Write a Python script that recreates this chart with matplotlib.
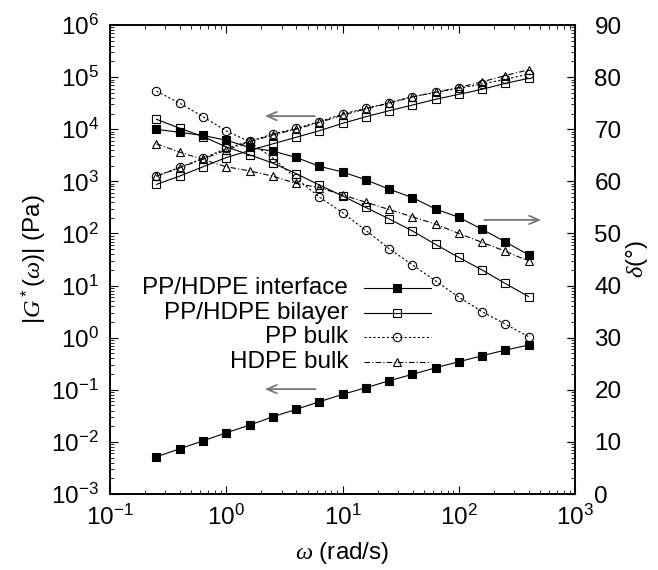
import numpy as np
import matplotlib
matplotlib.use("Agg")
import matplotlib.pyplot as plt
from matplotlib.lines import Line2D

plt.rcParams['font.family'] = ['Liberation Sans', 'DejaVu Sans']
plt.rcParams['mathtext.fontset'] = 'custom'
plt.rcParams['mathtext.rm'] = 'Liberation Sans'
plt.rcParams['mathtext.it'] = 'Liberation Serif:italic'
plt.rcParams['mathtext.bf'] = 'Liberation Sans:bold'
plt.rcParams['axes.unicode_minus'] = False

# ---- data ----
omega = [0.251, 0.398, 0.631, 1.0, 1.585, 2.512, 3.981, 6.310, 10.0, 15.85,
         25.12, 39.81, 63.10, 100.0, 158.5, 251.2, 398.1]

# |G*| (Pa), log10 values
logG_interface = [-2.286, -2.132, -1.979, -1.825, -1.678, -1.518, -1.376, -1.230, -1.088,
                  -0.961, -0.827, -0.704, -0.577, -0.462, -0.347, -0.238, -0.142]
logG_bilayer = [2.942, 3.102, 3.280, 3.457, 3.591, 3.720, 3.845, 3.971, 4.113,
                4.240, 4.355, 4.464, 4.574, 4.670, 4.766, 4.881, 4.975]
logG_pp = [3.102, 3.269, 3.441, 3.633, 3.770, 3.908, 4.017, 4.144, 4.292,
           4.401, 4.509, 4.624, 4.708, 4.785, 4.868, 4.958, 5.060]
logG_hdpe = [3.100, 3.260, 3.430, 3.600, 3.760, 3.890, 4.000, 4.130, 4.270,
             4.390, 4.500, 4.620, 4.710, 4.800, 4.910, 5.030, 5.140]

# phase angle delta (degrees)
delta_interface = [70.0, 69.4, 68.8, 67.9, 66.5, 65.8, 64.6, 62.9, 61.8,
                   60.3, 58.5, 56.9, 54.7, 53.1, 50.8, 48.4, 45.9]
delta_bilayer = [71.9, 70.2, 68.6, 66.6, 65.1, 63.5, 61.5, 59.3, 57.2,
                 55.0, 52.8, 50.5, 47.9, 45.4, 43.0, 40.4, 37.9]
delta_pp = [77.3, 75.0, 72.4, 69.7, 67.6, 64.5, 60.6, 57.0, 54.0,
            50.6, 47.1, 44.0, 40.9, 37.8, 35.0, 32.6, 30.2]
delta_hdpe = [67.2, 65.6, 64.2, 62.8, 62.0, 61.0, 59.6, 58.8, 57.4,
              56.0, 54.6, 53.2, 51.8, 50.0, 48.3, 46.6, 44.7]

labels = ["PP/HDPE interface", "PP/HDPE bilayer", "PP bulk", "HDPE bulk"]

G_ticks = [1e-3, 1e-2, 1e-1, 1e0, 1e1, 1e2, 1e3, 1e4, 1e5, 1e6]
d_ticks = [0, 10, 20, 30, 40, 50, 60, 70, 80, 90]
x_ticks = [1e-1, 1e0, 1e1, 1e2, 1e3]

# ---- styles ----
lw = 0.8
styles = [
    dict(ls='-', marker='s', ms=6.3, mfc='black', mec='black'),
    dict(ls='-', marker='s', ms=6.3, mfc='none', mec='black'),
    dict(ls=(0, (2, 2)), marker='o', ms=6, mfc='none', mec='black'),
    dict(ls=(0, (5, 2, 1, 2)), marker='^', ms=6, mfc='none', mec='black'),
]

fig = plt.figure(figsize=(6.58, 5.70), dpi=100)
ax = fig.add_axes([0.1672, 0.1333, 0.7067, 0.8228])
ax.set_xscale('log')
ax.set_yscale('log')
ax.set_xlim(0.1, 1000)
ax.set_ylim(1e-3, 1e6)

w = np.array(omega)
Gs = [logG_interface, logG_bilayer, logG_pp, logG_hdpe]
for G, st in zip(Gs, styles):
    ax.plot(w, 10 ** np.array(G), color='black', lw=lw, mew=0.8, **st)

ax2 = ax.twinx()
ax2.set_ylim(0, 90)
ds = [delta_interface, delta_bilayer, delta_pp, delta_hdpe]
for d, st in zip(ds, styles):
    ax2.plot(w, d, color='black', lw=lw, mew=0.8, **st)
ax2.set_xlim(0.1, 1000)

fs = 17.5
ax.set_yticks(G_ticks)
ax.set_xticks(x_ticks)
ax2.set_yticks(d_ticks)
ax.tick_params(axis='both', which='major', direction='in', length=6, width=0.8,
               labelsize=fs, top=True, right=True, pad=8)
ax.tick_params(axis='both', which='minor', direction='in', length=3, width=0.6,
               top=True, right=True)
ax.tick_params(axis='y', which='major', pad=8)
ax2.tick_params(axis='y', which='major', direction='in', length=6, width=0.8,
                labelsize=fs, pad=14)
for a in (ax, ax2):
    for s in a.spines.values():
        s.set_linewidth(1.2)

ax.set_xlabel(r'$\omega$ (rad/s)', fontsize=fs, labelpad=7)
ax.set_ylabel(r'$|G^*(\omega)|$ (Pa)', fontsize=fs, labelpad=2)
ax2.set_ylabel(r'$\delta$(°)', fontsize=fs, labelpad=2)

# arrows
arrow_kw = dict(arrowstyle='->,head_length=0.7,head_width=0.3', color='#777777', lw=1.3)
ax.annotate('', xy=(2.03, 1.79e4), xytext=(6.1, 1.79e4), arrowprops=arrow_kw)
ax.annotate('', xy=(2.03, 0.103), xytext=(6.2, 0.103), arrowprops=arrow_kw)
ax2.annotate('', xy=(540, 52.6), xytext=(157, 52.6), arrowprops=arrow_kw)

# legend drawn gnuplot-style
rows = [0.4386, 0.3866, 0.3354, 0.2808]
for lab, st, yr in zip(labels, styles, rows):
    ax2.text(0.512, yr, lab, transform=ax2.transAxes, ha='right', va='center', fontsize=fs)
    ax2.add_line(Line2D([0.546, 0.690], [yr, yr], transform=ax2.transAxes, color='black',
                        lw=lw, ls=st['ls']))
    ax2.add_line(Line2D([0.617], [yr], transform=ax2.transAxes, color='black', ls='none',
                        marker=st['marker'], ms=st['ms'], mfc=st['mfc'], mec=st['mec'], mew=0.8))

fig.savefig('out.png', dpi=100)
